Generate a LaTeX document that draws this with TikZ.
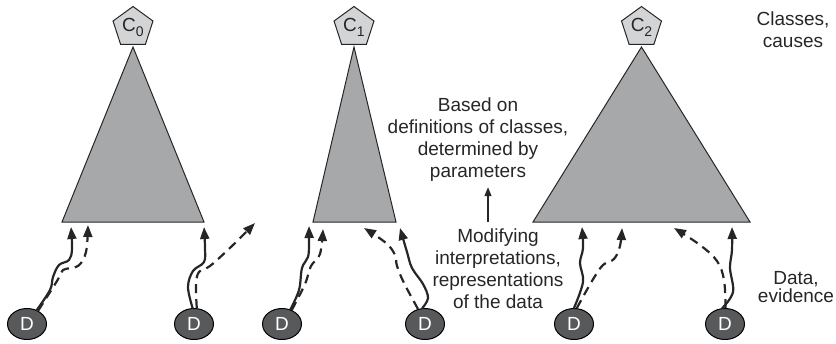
\documentclass[tikz,border=0pt]{standalone}
\usepackage{fontspec}
\setmainfont{Liberation Sans}
\usetikzlibrary{shapes.geometric,arrows.meta}
\definecolor{ink}{HTML}{262626}
\definecolor{trifill}{HTML}{A7A8AA}
\definecolor{pentfill}{HTML}{D3D4D5}
\definecolor{datafill}{HTML}{58595B}
\newcommand\csub[1]{\raisebox{-0.5ex}{\fontsize{14}{14}\selectfont #1}}
\begin{document}
\begin{tikzpicture}[x=1pt,y=1pt,
  classnode/.style={regular polygon, regular polygon sides=5, minimum size=42pt,
    inner sep=0pt, draw=ink, line width=1pt, fill=pentfill, text=ink,
    font=\fontsize{19}{19}\selectfont},
  datum/.style={ellipse, minimum width=39pt, minimum height=31pt, inner sep=0pt,
    draw=black, line width=1pt, fill=datafill, text=white,
    font=\fontsize{19}{19}\selectfont},
  tri/.style={draw=ink, line width=1pt, fill=trifill},
  note/.style={align=center, text=ink, inner sep=0pt,
    font=\fontsize{19}{21.7}\selectfont},
  solidarr/.style={draw=ink, line width=2.2pt, line cap=round,
    -{Triangle[length=12pt,width=9pt]}},
  dasharr/.style={draw=ink, line width=2.2pt, dash pattern=on 9pt off 6pt,
    -{Triangle[length=12pt,width=9pt]}}
]
\useasboundingbox (0,0) rectangle (836,-343);

% class hierarchies (triangles) with their class nodes on top
\draw[tri] (133,-47) -- (62,-222) -- (204,-222) -- cycle;
\draw[tri] (354,-47) -- (313,-222) -- (396,-222) -- cycle;
\draw[tri] (641.5,-47) -- (533,-222) -- (750,-222) -- cycle;
\node[classnode] (c0) at (133,-27.5) {C\csub{0}};
\node[classnode] (c1) at (354,-27.5) {C\csub{1}};
\node[classnode] (c2) at (641.5,-27.5) {C\csub{2}};

% data items
\node[datum] (d1) at (27,-324) {D};
\node[datum] (d2) at (194,-324) {D};
\node[datum] (d3) at (282,-324) {D};
\node[datum] (d4) at (425,-324) {D};
\node[datum] (d5) at (574,-324) {D};
\node[datum] (d6) at (725,-324) {D};

% arrow ends below the hierarchies
\coordinate (t1s) at (71,-227);  \coordinate (t1d) at (88,-225);
\coordinate (t2s) at (204,-227); \coordinate (t2d) at (255,-223);
\coordinate (t3s) at (309,-226); \coordinate (t3d) at (323,-229);
\coordinate (t4s) at (400,-228); \coordinate (t4d) at (364,-228);
\coordinate (t5s) at (582,-227); \coordinate (t5d) at (622,-228);
\coordinate (t6s) at (732,-227); \coordinate (t6d) at (674,-228);

% interpretations of each data item
\draw[solidarr] plot[smooth, tension=0.6] coordinates
  {(d1.55) (50,-290) (53,-277) (59,-265) (69,-260) (72,-249) (t1s)};
\draw[dasharr] plot[smooth, tension=0.6] coordinates
  {(d1.50) (57,-281) (63,-270) (78,-266) (86,-252) (t1d)};

\draw[solidarr] plot[smooth, tension=0.6] coordinates
  {(d2.95) (188,-287) (193,-271) (204,-262) (205,-248) (t2s)};
\draw[dasharr] plot[smooth, tension=0.6] coordinates
  {(d2.80) (196,-285) (199,-272) (210,-266) (232,-246) (t2d)};

\draw[solidarr] plot[smooth, tension=0.6] coordinates
  {(d3.60) (299,-290) (302,-268) (308,-257) (309,-243) (t3s)};
\draw[dasharr] plot[smooth, tension=0.6] coordinates
  {(d3.55) (305,-284) (311,-266) (320,-254) (t3d)};

\draw[solidarr] plot[smooth, tension=0.6] coordinates
  {(d4.100) (428,-298) (423,-284) (412,-268) (407,-252) (t4s)};
\draw[dasharr] plot[smooth, tension=0.6] coordinates
  {(d4.115) (404,-283) (397,-266) (395,-255) (386,-243) (t4d)};

\draw[solidarr] plot[smooth, tension=0.6] coordinates
  {(d5.90) (583,-282) (580,-263) (583,-248) (t5s)};
\draw[dasharr] plot[smooth, tension=0.6] coordinates
  {(d5.80) (592,-281) (603,-265) (614,-259) (620,-246) (t5d)};

\draw[solidarr] plot[smooth, tension=0.6] coordinates
  {(d6.100) (733,-292) (730,-268) (732,-250) (t6s)};
\draw[dasharr] plot[smooth, tension=0.6] coordinates
  {(d6.88) (724,-280) (717,-261) (700,-245) (t6d)};

% explanatory texts
\node[note, anchor=north] (based) at (478,-98)
  {Based on\\definitions of classes,\\determined by\\parameters};
\node[note, anchor=north] (modif) at (498,-229)
  {Modifying\\interpretations,\\representations\\of the data};
\coordinate (arrx) at (488,0);
\draw[ink, line width=1.2pt, -{Triangle[length=9pt,width=7pt]}]
  ([yshift=7pt]modif.north -| arrx) -- ([yshift=-6pt]based.south -| arrx);

\node[note, anchor=north] (cls) at (793,-12) {Classes,\\causes};
\node[note, anchor=north, font=\fontsize{19}{18}\selectfont] (dat) at (796,-271)
  {Data,\\evidence};
\end{tikzpicture}
\end{document}
